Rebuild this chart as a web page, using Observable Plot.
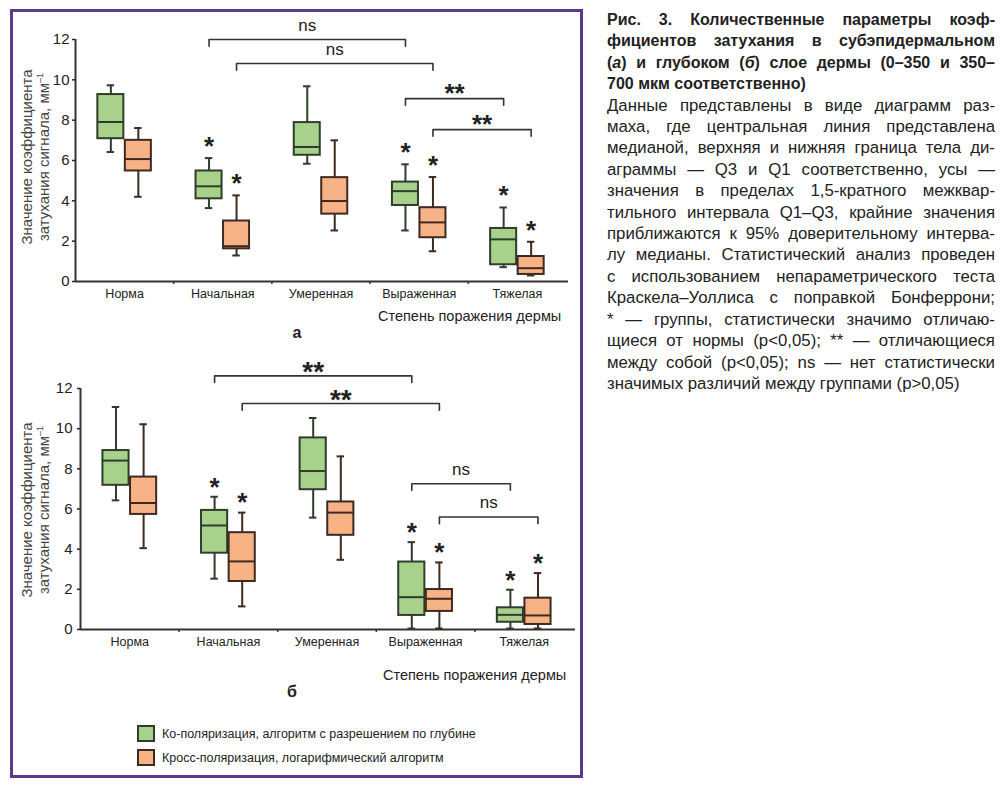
<!DOCTYPE html>
<html><head><meta charset="utf-8">
<script src="https://cdn.jsdelivr.net/npm/d3@7"></script>
<script src="https://cdn.jsdelivr.net/npm/@observablehq/plot@0.6"></script>
<style>
body{margin:0;background:#fff;font-family:"Liberation Sans",Arial,sans-serif;color:#222;}
#page{position:relative;width:1005px;height:790px;overflow:hidden;background:#fff;}
#frame{position:absolute;left:10px;top:9px;width:573px;height:769px;box-sizing:border-box;border:3px solid #5b3a8c;pointer-events:none;}
.ylab{position:absolute;transform:translate(-50%,-50%) rotate(-90deg);white-space:nowrap;text-align:center;font-size:15px;line-height:16.5px;color:#444;}
.ylab sup{font-size:9px;line-height:0;vertical-align:6px;}
.xt{position:absolute;font-size:14.5px;color:#222;white-space:nowrap;transform:translateY(-50%);}
.pl{position:absolute;font-size:16px;font-weight:bold;color:#222;transform:translate(-50%,-50%);}
.sw{position:absolute;width:18px;height:17px;box-sizing:border-box;border:2px solid #3a3a2e;}
.lt{position:absolute;font-size:12.5px;color:#222;white-space:nowrap;transform:translateY(-50%);}
#cap{position:absolute;left:607px;top:9px;width:388px;font-size:16.8px;line-height:21.4px;color:#222;}
#cap .ln{display:flex;justify-content:space-between;white-space:nowrap;}
#cap .ln.b{font-weight:bold;font-size:16px;}
</style></head><body><div id="page"></div>
<script>
// ---------- data ----------
const categories = ["Норма", "Начальная", "Умеренная", "Выраженная", "Тяжелая"];
const seriesNames = ["Ко-поляризация, алгоритм с разрешением по глубине", "Кросс-поляризация, логарифмический алгоритм"];
const yTicks = [0, 2, 4, 6, 8, 10, 12];
const xTitle = "Степень поражения дермы";

// panel а — [lower whisker, Q1, median, Q3, upper whisker]
const coA    = [[6.42, 7.08, 7.91, 9.27, 9.73], [3.64, 4.10, 4.72, 5.48, 6.12], [5.84, 6.26, 6.67, 7.88, 9.68], [2.53, 3.77, 4.48, 4.93, 5.81], [0.71, 0.83, 2.09, 2.63, 3.67]];
const crossA = [[4.20, 5.48, 6.07, 7.00, 7.61], [1.29, 1.62, 1.75, 3.00, 4.27], [2.53, 3.34, 3.99, 5.15, 7.00], [1.50, 2.17, 2.93, 3.66, 5.18], [0.30, 0.35, 0.66, 1.24, 1.97]];
const starsCoA    = [false, true, false, true, true];
const starsCrossA = [false, true, false, true, true];
// [from category, from series, to category, to series, level, label]
const bracketsA = [
  ["Начальная", 0, "Выраженная", 0, 12.0, "ns"],
  ["Начальная", 1, "Выраженная", 1, 10.81, "ns"],
  ["Выраженная", 0, "Тяжелая", 0, 9.07, "**"],
  ["Выраженная", 1, "Тяжелая", 1, 7.53, "**"]
];

// panel б
const coB    = [[6.43, 7.18, 8.41, 8.91, 11.08], [2.53, 3.80, 5.18, 5.93, 6.61], [5.57, 6.96, 7.89, 9.54, 10.53], [0.05, 0.70, 1.61, 3.36, 4.35], [0.05, 0.36, 0.73, 1.08, 1.98]];
const crossB = [[4.05, 5.73, 6.30, 7.59, 10.22], [1.15, 2.39, 3.39, 4.82, 5.82], [3.47, 4.69, 5.82, 6.35, 8.62], [0.05, 0.90, 1.53, 1.99, 3.34], [0.05, 0.25, 0.70, 1.56, 2.81]];
const starsCoB    = [false, true, false, true, true];
const starsCrossB = [false, true, false, true, true];
const bracketsB = [
  ["Начальная", 0, "Выраженная", 0, 12.63, "**"],
  ["Начальная", 1, "Выраженная", 1, 11.25, "**"],
  ["Выраженная", 0, "Тяжелая", 0, 7.26, "ns"],
  ["Выраженная", 1, "Тяжелая", 1, 5.60, "ns"]
];

const captionBold = [
  "Рис. 3. Количественные параметры коэф-",
  "фициентов затухания в субэпидермальном",
  "(<i>а</i>) и глубоком (<i>б</i>) слое дермы (0–350 и 350–",
  "700 мкм соответственно)"
];
const captionText = [
  "Данные представлены в виде диаграмм раз-",
  "маха, где центральная линия представлена",
  "медианой, верхняя и нижняя граница тела ди-",
  "аграммы — Q3 и Q1 соответственно, усы —",
  "значения в пределах 1,5-кратного межквар-",
  "тильного интервала Q1–Q3, крайние значения",
  "приближаются к 95% доверительному интерва-",
  "лу медианы. Статистический анализ проведен",
  "с использованием непараметрического теста",
  "Краскела–Уоллиса с поправкой Бонферрони;",
  "* — группы, статистически значимо отличаю-",
  "щиеся от нормы (p<0,05); ** — отличающиеся",
  "между собой (p<0,05); ns — нет статистически",
  "значимых различий между группами (p>0,05)"
];

// ---------- styling ----------
const fills = ["#a8d28c", "#f7b286"];
const strokes = ["#2f3d2c", "#3e2a20"];
const offs = [-0.14, 0.14];
const boxW = 0.265, capW = 0.038;
const FONT = "Liberation Sans, Arial, sans-serif";

function boxChart(o) {
  const rows = [];
  [o.co, o.cross].forEach((arr, s) => arr.forEach((v, i) => rows.push({
    i, s, lo: v[0], q1: v[1], med: v[2], q3: v[3], hi: v[4],
    star: (s ? o.starsCross : o.starsCo)[i]
  })));
  const cx = d => d.i + offs[d.s];
  const bx = (c, s) => categories.indexOf(c) + offs[s];
  const tickLen = 0.33;
  const bpath = o.brackets.flatMap((b, k) => {
    const x1 = bx(b[0], b[1]), x2 = bx(b[2], b[3]), y = b[4];
    return [{k, x: x1, y: y - tickLen}, {k, x: x1, y}, {k, x: x2, y}, {k, x: x2, y: y - tickLen}];
  });
  const blabels = o.brackets.map(b => ({x: (bx(b[0], b[1]) + bx(b[2], b[3])) / 2, y: b[4], t: b[5]}));
  const stars = rows.filter(d => d.star);
  const starFs = 26;
  return Plot.plot({
    width: o.width, height: o.height,
    marginLeft: o.mL, marginRight: o.mR, marginTop: o.mT, marginBottom: o.mB,
    style: {background: "transparent", fontFamily: FONT, overflow: "visible"},
    x: {domain: [-0.5, 4.5]},
    y: {domain: [0, 12]},
    marks: [
      Plot.axisY({ticks: yTicks, tickSize: 3, tickPadding: o.yPad, fontSize: 15, color: "#222", strokeWidth: 1.5, label: null}),
      Plot.axisX({ticks: [0, 1, 2, 3, 4], tickFormat: i => categories[i], tickSize: 0, tickPadding: 8, fontSize: 12.5, color: "#222", label: null}),
      Plot.axisX({ticks: [0.5, 1.5, 2.5, 3.5], tickFormat: () => "", tickSize: 3, strokeWidth: 1.5, color: "#333", label: null}),
      Plot.ruleX([-0.5], {y1: 0, y2: 12, stroke: "#333", strokeWidth: 2}),
      Plot.ruleY([0], {x1: -0.5, x2: 4.52, stroke: "#333", strokeWidth: 2}),
      // whiskers
      Plot.ruleX(rows, {x: cx, y1: "lo", y2: "hi", stroke: d => strokes[d.s], strokeWidth: 2}),
      Plot.ruleY(rows, {y: "hi", x1: d => cx(d) - capW, x2: d => cx(d) + capW, stroke: d => strokes[d.s], strokeWidth: 2}),
      Plot.ruleY(rows, {y: "lo", x1: d => cx(d) - capW, x2: d => cx(d) + capW, stroke: d => strokes[d.s], strokeWidth: 2}),
      // boxes
      Plot.rect(rows, {x1: d => cx(d) - boxW / 2, x2: d => cx(d) + boxW / 2, y1: "q1", y2: "q3", fill: d => fills[d.s], stroke: d => strokes[d.s], strokeWidth: 2}),
      Plot.ruleY(rows, {y: "med", x1: d => cx(d) - boxW / 2, x2: d => cx(d) + boxW / 2, stroke: d => strokes[d.s], strokeWidth: 2}),
      // significance vs norm
      Plot.text(stars, {x: cx, y: "hi", text: () => "*", fontSize: starFs, fontWeight: "bold", fill: "#222", lineAnchor: "middle", dy: -o.starGap + 0.25 * starFs}),
      // brackets
      Plot.line(bpath, {x: "x", y: "y", z: "k", stroke: "#333", strokeWidth: 1.6}),
      Plot.text(blabels.filter(d => d.t === "ns"), {x: "x", y: "y", text: "t", fontSize: 17, fill: "#222", lineAnchor: "middle", dy: -14}),
      Plot.text(blabels.filter(d => d.t !== "ns"), {x: "x", y: "y", text: "t", fontSize: o.dsFs, fontWeight: "bold", fill: "#222", lineAnchor: "middle", dy: -11 + 0.25 * o.dsFs})
    ]
  });
}

const page = document.getElementById("page");
function add(html) { page.insertAdjacentHTML("beforeend", html); }

const chartA = boxChart({co: coA, cross: crossA, starsCo: starsCoA, starsCross: starsCrossA, brackets: bracketsA,
  width: 590, height: 310, mL: 75, mR: 24, mT: 39, mB: 29, yPad: 3, starGap: 18, dsFs: 26});
chartA.style.position = "absolute"; chartA.style.left = "0px"; chartA.style.top = "0px";
page.appendChild(chartA);

const chartB = boxChart({co: coB, cross: crossB, starsCo: starsCoB, starsCross: starsCrossB, brackets: bracketsB,
  width: 590, height: 318, mL: 80, mR: 17, mT: 48, mB: 29, yPad: 5, starGap: 16, dsFs: 28});
chartB.style.position = "absolute"; chartB.style.left = "0px"; chartB.style.top = "340px";
page.appendChild(chartB);

// axis titles, panel letters
add(`<div class="ylab" style="left:35px;top:157px">Значение коэффициента<br>затухания сигнала, мм<sup>–1</sup></div>`);
add(`<div class="ylab" style="left:35px;top:510px">Значение коэффициента<br>затухания сигнала, мм<sup>–1</sup></div>`);
add(`<div class="xt" style="left:378px;top:316px">${xTitle}</div>`);
add(`<div class="xt" style="left:383px;top:675px">${xTitle}</div>`);
add(`<div class="pl" style="left:297px;top:333px">а</div>`);
add(`<div class="pl" style="left:292px;top:692px">б</div>`);

// legend
seriesNames.forEach((n, s) => {
  const top = [725, 749][s];
  add(`<div class="sw" style="left:137px;top:${top}px;background:${fills[s]};border-color:${strokes[s]}"></div>`);
  add(`<div class="lt" style="left:162px;top:${top + 8.5}px">${n}</div>`);
});

// caption
const cap = document.createElement("div"); cap.id = "cap";
function esc(w) { return w.includes("<i>") ? w : w.replace(/</g, "&lt;").replace(/>/g, "&gt;"); }
function line(txt, bold, last) {
  const d = document.createElement("div");
  d.className = "ln" + (bold ? " b" : "");
  const words = txt.split(" ");
  if (last) {
    d.style.justifyContent = "flex-start";
    d.innerHTML = words.map(w => `<span>${esc(w)}</span>`).join("<span>&nbsp;</span>");
  } else {
    d.innerHTML = words.map(w => `<span>${esc(w)}</span>`).join("");
  }
  cap.appendChild(d);
}
captionBold.forEach((t, k) => line(t, true, k === captionBold.length - 1));
captionText.forEach((t, k) => line(t, false, k === captionText.length - 1));
page.appendChild(cap);

add(`<div id="frame"></div>`);
</script></body></html>
